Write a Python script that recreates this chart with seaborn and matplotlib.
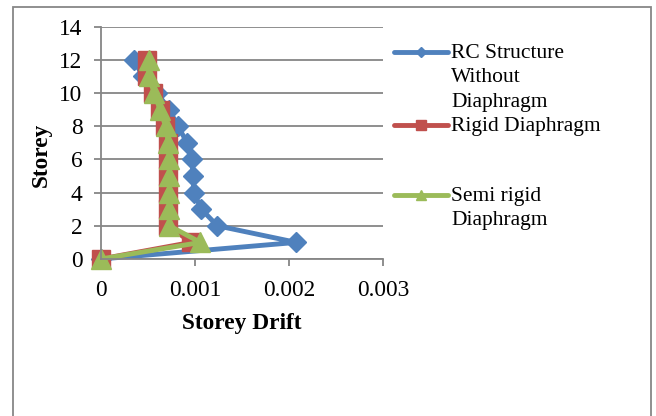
import matplotlib
matplotlib.use("Agg")
import matplotlib.pyplot as plt
import matplotlib.patches as mpatches
import seaborn as sns
import pandas as pd

storeys = [0, 1, 2, 3, 4, 5, 6, 7, 8, 9, 10, 11, 12]
rc_without = [0, 0.00208, 0.00124, 0.00107, 0.00099, 0.00098, 0.00097, 0.00092, 0.00082, 0.00073, 0.00060, 0.00045, 0.00035]
rigid = [0, 0.00096, 0.00072, 0.00072, 0.00072, 0.00072, 0.00072, 0.00072, 0.00068, 0.00063, 0.00056, 0.00049, 0.00049]
semi_rigid = [0, 0.00106, 0.00073, 0.00073, 0.00073, 0.00073, 0.00073, 0.00072, 0.00069, 0.00063, 0.00057, 0.00051, 0.00051]
series_labels = ["RC Structure\nWithout\nDiaphragm", "Rigid Diaphragm", "Semi rigid\nDiaphragm"]
x_ticks = [0, 0.001, 0.002, 0.003]
x_tick_labels = ["0", "0.001", "0.002", "0.003"]
y_ticks = [0, 2, 4, 6, 8, 10, 12, 14]

sns.set_theme(style="white")
plt.rcParams["font.family"] = ["Liberation Serif", "DejaVu Serif"]
FS = 15.5
TFS = 16.8

W, H = 656, 416
fig = plt.figure(figsize=(W / 100, H / 100), dpi=100)
ax = fig.add_axes([100.7 / W, 1 - 259 / H, (383 - 100.7) / W, (259 - 26.7) / H])

# outer chart border
fig.patches.append(mpatches.Rectangle((13 / W, -0.05), (651 - 13) / W, (416 - 7) / H + 0.05,
                                      transform=fig.transFigure, fill=False,
                                      edgecolor="#878787", linewidth=1.3))

colors = ["#4F81BD", "#C0504D", "#9BBB59"]
markers = ["D", "s", "^"]
msizes = [10, 13, 14]
handles = []
for vals, lab, c, m, ms in zip([rc_without, rigid, semi_rigid], series_labels, colors, markers, msizes):
    df = pd.DataFrame({"drift": vals, "storey": storeys})
    sns.lineplot(data=df, x="drift", y="storey", sort=False, estimator=None, ax=ax,
                 color=c, linewidth=3.5, marker=m, markersize=ms,
                 markeredgecolor=c, markeredgewidth=1, label=lab, legend=False,
                 clip_on=False)
    handles.append(ax.lines[-1])

ax.set_xlim(0, 0.003)
ax.set_ylim(0, 14)
ax.set_xticks(x_ticks)
ax.set_xticklabels(x_tick_labels)
ax.set_yticks(y_ticks)
ax.yaxis.grid(True, color="#868686", linewidth=1.3)
ax.xaxis.grid(False)
ax.set_axisbelow(True)
for s in ["top", "right"]:
    ax.spines[s].set_visible(False)
for s in ["left", "bottom"]:
    ax.spines[s].set_color("#868686")
    ax.spines[s].set_linewidth(1.3)
ax.tick_params(axis="both", direction="out", length=5, width=1.3, color="#868686",
               labelsize=TFS, labelcolor="black", pad=8)
ax.tick_params(axis="x", pad=10)
ax.tick_params(axis="both", which="both", bottom=True, left=True)

ax.set_xlabel("Storey Drift", fontsize=TFS, fontweight="bold", color="black")
ax.xaxis.label.set_va("center")
ax.xaxis.set_label_coords(0.5, (259 - 323) / 232.3)
ax.set_ylabel("Storey", fontsize=TFS, fontweight="bold", color="black")
ax.yaxis.label.set_va("center")
ax.yaxis.set_label_coords((41 - 100.7) / 282.3, (259 - 155) / 232.3)

# legend entries, one per slot
tops = [44, 117, 187]
for h, lab, t in zip(handles, series_labels, tops):
    leg = fig.legend([h], [lab], loc="upper left", bbox_to_anchor=(394 / W, 1 - t / H),
                     frameon=False, fontsize=FS, borderpad=0, borderaxespad=0,
                     handlelength=2.5, handletextpad=0.15, markerscale=0.55)
    for txt in leg.get_texts():
        txt.set_linespacing(1.38)
        txt.set_color("black")
    for col in leg._legend_handle_box.get_children():
        for entry in col.get_children():
            entry.align = "top"

fig.savefig("out.png", dpi=100)
